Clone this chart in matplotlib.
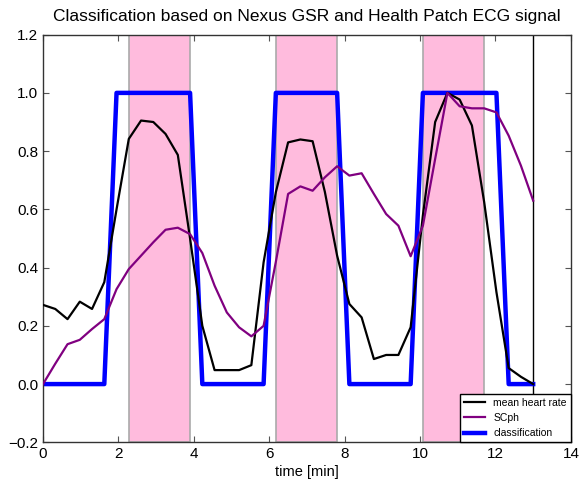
import numpy as np
import matplotlib
matplotlib.use("Agg")
import matplotlib.pyplot as plt

plt.rcParams['font.family'] = ['Liberation Sans', 'DejaVu Sans']

# time grid (min)
time = np.arange(41) * 0.325

mean_heart_rate = [0.272, 0.258, 0.223, 0.283, 0.258, 0.35, 0.60, 0.842, 0.905, 0.90,
                   0.859, 0.787, 0.50, 0.20, 0.048, 0.048, 0.048, 0.065, 0.418, 0.659,
                   0.83, 0.84, 0.834, 0.66, 0.441, 0.275, 0.229, 0.086, 0.10, 0.10,
                   0.195, 0.58, 0.90, 1.0, 0.977, 0.888, 0.625, 0.316, 0.055, 0.025,
                   0.0]

scph = [0.0, 0.07, 0.137, 0.152, 0.189, 0.223, 0.326, 0.395, 0.441, 0.487,
        0.53, 0.537, 0.515, 0.45, 0.338, 0.246, 0.195, 0.164, 0.20, 0.42,
        0.653, 0.679, 0.664, 0.71, 0.748, 0.716, 0.724, 0.653, 0.584, 0.544,
        0.439, 0.544, 0.773, 1.0, 0.954, 0.947, 0.947, 0.933, 0.853, 0.75,
        0.63]

classification = [0, 0, 0, 0, 0, 0, 1, 1, 1, 1,
                  1, 1, 1, 0, 0, 0, 0, 0, 0, 1,
                  1, 1, 1, 1, 1, 0, 0, 0, 0, 0,
                  0, 1, 1, 1, 1, 1, 1, 1, 0, 0,
                  0]

stress_spans = [(2.275, 3.9), (6.175, 7.8), (10.075, 11.7)]
end_time = 13.0

fig = plt.figure(figsize=(5.79, 4.88), dpi=100)
ax = fig.add_axes([0.0743, 0.0936, 0.9117, 0.8354])

for a, b in stress_spans:
    ax.axvspan(a, b, facecolor='#ffbbdd', edgecolor='#aaaaaa', linewidth=1.2, zorder=0)

ax.axvline(end_time, color='black', linewidth=1.0, zorder=1)

ax.plot(time, mean_heart_rate, color='black', linewidth=1.6, label='mean heart rate', zorder=3)
ax.plot(time, scph, color='purple', linewidth=1.6, label='SCph', zorder=3)
ax.plot(time, classification, color='blue', linewidth=3.2, label='classification', zorder=2)

ax.set_xlim(0, 14)
ax.set_ylim(-0.2, 1.2)
ax.set_xticks(np.arange(0, 15, 2))
ax.set_yticks(np.arange(-0.2, 1.21, 0.2))
ax.set_yticklabels(['\u22120.2', '0.0', '0.2', '0.4', '0.6', '0.8', '1.0', '1.2'])
ax.tick_params(direction='in', top=True, right=True, labelsize=11, length=4, width=0.8, color='#555555')
for s in ax.spines.values():
    s.set_color('#333333')
    s.set_linewidth(1.0)

ax.set_xlabel('time [min]', fontsize=10.5, labelpad=3)
ax.set_title('Classification based on Nexus GSR and Health Patch ECG signal', fontsize=12.5, pad=10)

leg = ax.legend(loc='lower right', fontsize=7.5, borderaxespad=0.0, fancybox=False,
                handlelength=2.0, framealpha=1.0)
leg.get_frame().set_edgecolor('black')
leg.get_frame().set_linewidth(1.0)

fig.savefig('out.png', dpi=100)
